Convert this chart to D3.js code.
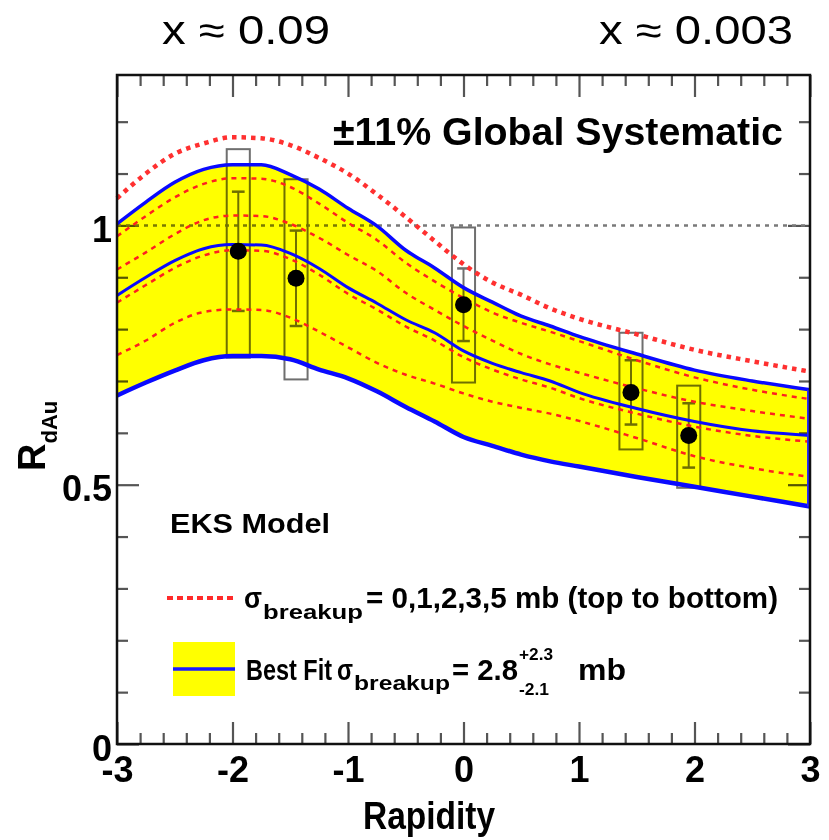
<!DOCTYPE html>
<html>
<head>
<meta charset="utf-8">
<script src="https://cdn.jsdelivr.net/npm/d3@7"></script>
<style>
  html, body { margin: 0; padding: 0; background: #fff; }
  svg { display: block; }
  text { font-family: "Liberation Sans", Arial, Helvetica, sans-serif; }
</style>
</head>
<body>
<svg id="chart" width="829" height="840"></svg>
<script>
// ---------------- data ----------------
const gridX = [-3, -2.75, -2.5, -2.25, -2, -1.75, -1.5, -1.25, -1, -0.75, -0.5, -0.25, 0, 0.25, 0.5, 0.75, 1, 1.5, 2, 2.5, 3];

// EKS model, sigma_breakup = 0,1,2,3,5 mb (red dashed, top to bottom)
const sigma0 = [1.052, 1.100, 1.138, 1.158, 1.170, 1.168, 1.155, 1.130, 1.100, 1.060, 1.016, 0.970, 0.925, 0.890, 0.866, 0.840, 0.820, 0.790, 0.760, 0.738, 0.718];
const sigma1 = [0.979, 1.018, 1.054, 1.080, 1.091, 1.090, 1.074, 1.042, 1.005, 0.972, 0.928, 0.892, 0.860, 0.832, 0.812, 0.795, 0.777, 0.740, 0.707, 0.683, 0.665];
const sigma2 = [0.915, 0.948, 0.983, 1.010, 1.019, 1.018, 1.003, 0.976, 0.943, 0.912, 0.870, 0.837, 0.806, 0.778, 0.752, 0.732, 0.716, 0.686, 0.660, 0.642, 0.627];
const sigma3 = [0.851, 0.885, 0.918, 0.942, 0.952, 0.951, 0.935, 0.905, 0.868, 0.838, 0.805, 0.778, 0.746, 0.722, 0.703, 0.687, 0.667, 0.637, 0.612, 0.594, 0.583];
const sigma5 = [0.750, 0.778, 0.812, 0.833, 0.838, 0.837, 0.822, 0.795, 0.765, 0.735, 0.712, 0.695, 0.676, 0.660, 0.648, 0.637, 0.623, 0.590, 0.555, 0.532, 0.515];

// Best fit (2.8 mb) and its band (+2.3 / -2.1 mb)
const bestFit   = [0.865, 0.900, 0.932, 0.955, 0.963, 0.962, 0.946, 0.917, 0.880, 0.850, 0.818, 0.793, 0.758, 0.734, 0.716, 0.700, 0.678, 0.647, 0.622, 0.604, 0.595];
const bandUpper = [1.003, 1.045, 1.083, 1.108, 1.117, 1.117, 1.098, 1.070, 1.033, 0.999, 0.952, 0.918, 0.880, 0.852, 0.825, 0.806, 0.786, 0.752, 0.721, 0.700, 0.683];
const bandLower = [0.672, 0.697, 0.720, 0.740, 0.748, 0.748, 0.742, 0.722, 0.705, 0.680, 0.650, 0.622, 0.592, 0.575, 0.558, 0.545, 0.535, 0.515, 0.496, 0.477, 0.458];

// PHENIX data points
const pointX  = [-1.95, -1.45, 0.0, 1.45, 1.95];
const pointY  = [0.950, 0.898, 0.847, 0.678, 0.595];
const statErr = [0.115, 0.092, 0.070, 0.062, 0.062];
const sysLow  = [0.745, 0.703, 0.697, 0.568, 0.494];
const sysHigh = [1.147, 1.089, 0.996, 0.793, 0.691];

const xMajor = [-3, -2, -1, 0, 1, 2, 3];
const yMajor = [0, 0.5, 1];
const xMinor = d3.range(-3, 3.001, 0.2).map(v => +v.toFixed(2)).filter(v => !xMajor.includes(v));
const yMinor = d3.range(0.1, 1.25, 0.1).map(v => +v.toFixed(2)).filter(v => !yMajor.includes(v));

// ---------------- layout ----------------
const svg = d3.select("#chart");
svg.append("rect").attr("width", 829).attr("height", 840).attr("fill", "#fff");

const L = 117, R = 810, T = 75, B = 744;
const x = d3.scaleLinear().domain([-3, 3]).range([L, R]);
const y = d3.scaleLinear().domain([0, 1.29]).range([B, T]);

const FONT = '"Liberation Sans", Arial, Helvetica, sans-serif';
const tickCol = "#555";

// ---------------- axes (ticks under the band) ----------------
function styleTicks(g) {
  g.select(".domain").remove();
  g.selectAll(".tick line").attr("stroke", tickCol).attr("stroke-width", 2.2);
}
const fmt = d => String(d);

svg.append("g").attr("transform", `translate(0,${B})`)
  .call(d3.axisBottom(x).tickValues(xMinor).tickSize(-11).tickFormat(""))
  .call(styleTicks);
svg.append("g").attr("transform", `translate(0,${B})`)
  .call(d3.axisBottom(x).tickValues(xMajor).tickSize(-22).tickPadding(12).tickFormat(fmt))
  .call(styleTicks)
  .call(g => g.selectAll("text").attr("fill", "#000").attr("font-size", 36).attr("font-weight", "bold").attr("font-family", FONT));
svg.append("g").attr("transform", `translate(0,${T})`)
  .call(d3.axisTop(x).tickValues(xMinor).tickSize(-11).tickFormat(""))
  .call(styleTicks);
svg.append("g").attr("transform", `translate(0,${T})`)
  .call(d3.axisTop(x).tickValues(xMajor).tickSize(-22).tickFormat(""))
  .call(styleTicks);
svg.append("g").attr("transform", `translate(${L},0)`)
  .call(d3.axisLeft(y).tickValues(yMinor).tickSize(-11).tickFormat(""))
  .call(styleTicks);
svg.append("g").attr("transform", `translate(${L},0)`)
  .call(d3.axisLeft(y).tickValues(yMajor).tickSize(-22).tickPadding(5).tickFormat(fmt))
  .call(styleTicks)
  .call(g => g.selectAll("text").attr("fill", "#000").attr("font-size", 36).attr("font-weight", "bold").attr("font-family", FONT).attr("dy", "0.45em"));
svg.append("g").attr("transform", `translate(${R},0)`)
  .call(d3.axisRight(y).tickValues(yMinor).tickSize(-11).tickFormat(""))
  .call(styleTicks);
svg.append("g").attr("transform", `translate(${R},0)`)
  .call(d3.axisRight(y).tickValues(yMajor).tickSize(-22).tickFormat(""))
  .call(styleTicks);

// reference line at 1
svg.append("line")
  .attr("x1", x(-3)).attr("x2", x(3)).attr("y1", y(1)).attr("y2", y(1))
  .attr("stroke", "#7a7a7a").attr("stroke-width", 2.5).attr("stroke-dasharray", "4,5");

// systematic boxes and stat error bars (under the band, multiplied)
const dataG = svg.append("g");
pointX.forEach((px, i) => {
  dataG.append("rect")
    .attr("x", x(px - 0.1)).attr("y", y(sysHigh[i]))
    .attr("width", x(px + 0.1) - x(px - 0.1)).attr("height", y(sysLow[i]) - y(sysHigh[i]))
    .attr("fill", "none").attr("stroke", "#6f6f6f").attr("stroke-width", 2);
  dataG.append("line")
    .attr("x1", x(px)).attr("x2", x(px))
    .attr("y1", y(pointY[i] + statErr[i])).attr("y2", y(pointY[i] - statErr[i]))
    .attr("stroke", "#6f6f6f").attr("stroke-width", 2);
  [pointY[i] + statErr[i], pointY[i] - statErr[i]].forEach(v => {
    dataG.append("line")
      .attr("x1", x(px - 0.055)).attr("x2", x(px + 0.055))
      .attr("y1", y(v)).attr("y2", y(v))
      .attr("stroke", "#6f6f6f").attr("stroke-width", 2.5);
  });
});

// yellow band
const area = d3.area()
  .x((d, i) => x(gridX[i]))
  .y0((d, i) => y(bandLower[i]))
  .y1((d, i) => y(bandUpper[i]))
  .curve(d3.curveMonotoneX);
svg.append("path").datum(gridX).attr("d", area)
  .attr("fill", "#ffff00").style("mix-blend-mode", "multiply");

const line = vals => d3.line()
  .x((d, i) => x(gridX[i]))
  .y((d, i) => y(vals[i]))
  .curve(d3.curveMonotoneX)(gridX);

// red dashed EKS curves
[sigma1, sigma2, sigma3, sigma5].forEach(vals => {
  svg.append("path").attr("d", line(vals))
    .attr("fill", "none").attr("stroke", "#ff1f1f")
    .attr("stroke-width", 2.5).attr("stroke-dasharray", "5,5");
});
svg.append("path").attr("d", line(sigma0))
  .attr("fill", "none").attr("stroke", "#ff3030")
  .attr("stroke-width", 4.5).attr("stroke-dasharray", "4.5,5");

// blue best-fit curves
svg.append("path").attr("d", line(bandUpper)).attr("fill", "none").attr("stroke", "#0a0aff").attr("stroke-width", 3.5);
svg.append("path").attr("d", line(bestFit)).attr("fill", "none").attr("stroke", "#0a0aff").attr("stroke-width", 3);
svg.append("path").attr("d", line(bandLower)).attr("fill", "none").attr("stroke", "#0a0aff").attr("stroke-width", 4.5);
svg.append("line")
  .attr("x1", x(3) - 1).attr("x2", x(3) - 1)
  .attr("y1", y(bandUpper[bandUpper.length - 1])).attr("y2", y(bandLower[bandLower.length - 1]))
  .attr("stroke", "#2a2aff").attr("stroke-width", 4);

// data points
pointX.forEach((px, i) => {
  svg.append("circle").attr("cx", x(px)).attr("cy", y(pointY[i])).attr("r", 8.5).attr("fill", "#000");
});

// frame
svg.append("rect").attr("x", L).attr("y", T).attr("width", R - L).attr("height", B - T)
  .attr("fill", "none").attr("stroke", "#111").attr("stroke-width", 2.5);

// ---------------- texts ----------------
function txt(s, x0, y0, size, opts = {}) {
  const t = svg.append("text").attr("x", x0).attr("y", y0).attr("font-size", size)
    .attr("font-weight", opts.bold === false ? "normal" : "bold").attr("fill", "#000").text(s);
  if (opts.len) t.attr("textLength", opts.len).attr("lengthAdjust", "spacingAndGlyphs");
  if (opts.anchor) t.attr("text-anchor", opts.anchor);
  return t;
}

txt("x \u2248 0.09", 162, 44, 40, { bold: false, len: 168 });
txt("x \u2248 0.003", 599, 44, 40, { bold: false, len: 194 });

txt("\u00b111% Global Systematic", 333, 145, 38, { len: 450 });

// axis titles
txt("Rapidity", 429, 829, 38, { anchor: "middle", len: 132 });
const yt = svg.append("text").attr("transform", "translate(45,471) rotate(-90)")
  .attr("font-weight", "bold").attr("fill", "#000");
yt.append("tspan").attr("font-size", 38).text("R");
yt.append("tspan").attr("font-size", 22).attr("dy", 12).text("dAu");

// legend
txt("EKS Model", 170, 533, 28, { len: 160 });

svg.append("line").attr("x1", 167).attr("x2", 236).attr("y1", 598).attr("y2", 598)
  .attr("stroke", "#ff2a2a").attr("stroke-width", 4).attr("stroke-dasharray", "6,4");
txt("\u03c3", 244, 608, 30, { len: 18 });
txt("breakup", 263, 619, 20, { len: 100 });
txt("= 0,1,2,3,5 mb (top to bottom)", 366, 608, 29, { len: 412 });

svg.append("rect").attr("x", 173).attr("y", 642).attr("width", 62).attr("height", 54).attr("fill", "#ffff00");
svg.append("line").attr("x1", 173).attr("x2", 235).attr("y1", 669).attr("y2", 669)
  .attr("stroke", "#1a1aff").attr("stroke-width", 3.5);
txt("Best Fit", 246, 680, 29, { len: 86 });
txt("\u03c3", 337, 680, 30, { len: 16 });
txt("breakup", 354, 690, 20, { len: 96 });
txt("= 2.8", 452, 680, 29, { len: 66 });
txt("+2.3", 519, 660, 17, { len: 34 });
txt("-2.1", 519, 695, 17, { len: 30 });
txt("mb", 578, 680, 29, { len: 48 });
</script>
</body>
</html>
